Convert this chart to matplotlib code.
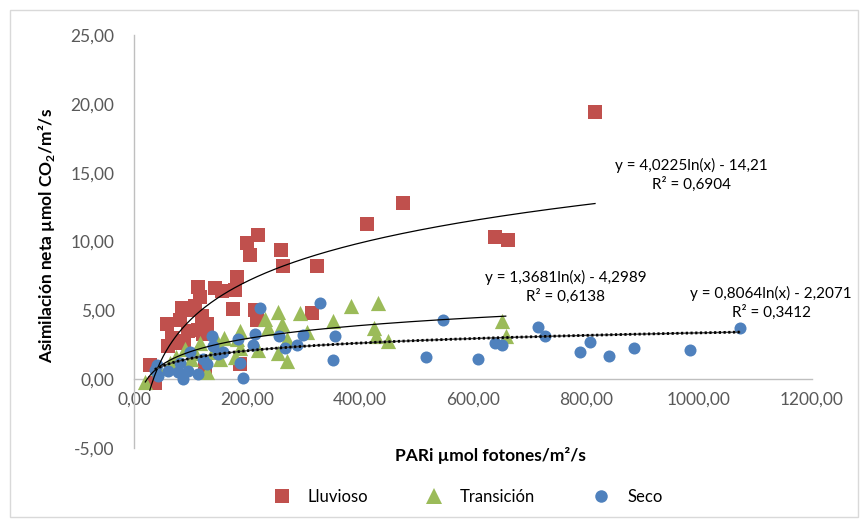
import numpy as np
import matplotlib
matplotlib.use("Agg")
import matplotlib.pyplot as plt
from matplotlib.patches import Rectangle
from matplotlib.lines import Line2D

plt.rcParams['font.family'] = ['Lato', 'DejaVu Sans']
plt.rcParams['mathtext.fontset'] = 'custom'
plt.rcParams['mathtext.rm'] = 'Lato'
plt.rcParams['mathtext.bf'] = 'Lato:bold'

# PARi (x) and net assimilation (y) for each season
lluv_x = [816, 476, 412, 639, 662, 324, 315, 219, 200, 205, 260, 264, 182, 179,
          176, 214, 217, 143, 156, 113, 117, 108, 85, 81, 58, 67, 78, 120, 113,
          122, 61, 28, 37, 188, 126, 100, 95, 130, 88]
lluv_y = [19.4, 12.8, 11.3, 10.3, 10.1, 8.2, 4.8, 10.5, 9.9, 9.0, 9.4, 8.2, 7.4,
          6.5, 5.1, 5.0, 4.3, 6.6, 6.4, 6.7, 6.0, 5.3, 5.2, 4.3, 4.0, 3.0, 2.6,
          4.6, 3.6, 3.3, 2.4, 1.0, -0.3, 1.1, 0.9, 5.0, 3.5, 4.0, 2.8]

trans_x = [20, 43, 64, 75, 100, 108, 117, 129, 149, 152, 160, 179, 182, 188, 188,
           219, 232, 237, 255, 255, 262, 271, 271, 294, 306, 352, 384, 425, 428,
           432, 449, 651, 658, 90, 140]
trans_y = [-0.2, 0.8, 1.2, 1.6, 1.5, 1.9, 2.6, 0.5, 2.6, 1.5, 3.0, 1.6, 2.9, 3.5,
           2.3, 2.1, 4.4, 3.7, 4.9, 1.9, 4.0, 2.9, 1.3, 4.8, 3.4, 4.2, 5.3, 3.7,
           3.1, 5.5, 2.8, 4.2, 3.1, 2.2, 2.0]

seco_x = [37, 43, 40, 60, 81, 78, 87, 96, 99, 122, 129, 113, 138, 140, 149, 158,
          184, 188, 193, 211, 214, 223, 257, 267, 288, 299, 329, 352, 356, 547,
          517, 609, 639, 651, 715, 727, 789, 807, 841, 885, 984, 1072]
seco_y = [0.7, 0.2, 1.0, 0.6, 1.2, 0.5, 0.0, 0.6, 2.0, 1.5, 1.1, 0.4, 3.1, 2.4,
          1.8, 2.0, 2.9, 1.2, 0.1, 2.5, 3.3, 5.2, 3.1, 2.3, 2.5, 3.2, 5.5, 1.4,
          3.1, 4.3, 1.6, 1.5, 2.6, 2.5, 3.8, 3.1, 2.0, 2.7, 1.7, 2.3, 2.1, 3.7]

# logarithmic fits y = a ln(x) + b
fits = {
    'lluv': (4.0225, -14.21),
    'trans': (1.3681, -4.2989),
    'seco': (0.8064, -2.2071),
}

c_lluv = '#C0504D'
c_trans = '#9BBB59'
c_seco = '#4F81BD'

fig = plt.figure(figsize=(8.68, 5.27), dpi=100)
ax = fig.add_axes([134 / 868, 79 / 527, 678 / 868, 413 / 527])

ax.scatter(lluv_x, lluv_y, marker='s', s=105, color=c_lluv, linewidths=0, zorder=3)
ax.scatter(trans_x, trans_y, marker='^', s=120, color=c_trans, linewidths=0, zorder=3)
ax.scatter(seco_x, seco_y, marker='o', s=75, color=c_seco, linewidths=0, zorder=3)

def trend(xs, key):
    a, b = fits[key]
    xx = np.linspace(min(xs), max(xs), 300)
    return xx, a * np.log(xx) + b

xx, yy = trend(lluv_x, 'lluv')
ax.plot(xx, yy, color='black', lw=0.9, zorder=4)
xx, yy = trend(trans_x, 'trans')
ax.plot(xx, yy, color='black', lw=0.9, zorder=4)
xx, yy = trend(seco_x, 'seco')
ax.plot(xx, yy, color='#444444', lw=1.0, zorder=4)
ax.plot(xx, yy, color='black', lw=2.0, ls=(0, (0.8, 0.9)), zorder=4)

ax.set_xlim(0, 1200)
ax.set_ylim(-5, 25)
ax.set_xticks(np.arange(0, 1201, 200))
ax.set_yticks(np.arange(-5, 26, 5))
ax.set_xticklabels([f'{v:.2f}'.replace('.', ',') for v in np.arange(0, 1201, 200)])
ax.set_yticklabels([f'{v:.2f}'.replace('.', ',') for v in np.arange(-5, 26, 5)])

for s in ['top', 'right']:
    ax.spines[s].set_visible(False)
ax.spines['bottom'].set_position(('data', 0))
ax.spines['left'].set_position(('data', 0))
for s in ['bottom', 'left']:
    ax.spines[s].set_color('#BFBFBF')
    ax.spines[s].set_linewidth(1.0)
ax.tick_params(axis='both', length=0, labelsize=12.5, colors='#595959')
ax.tick_params(axis='x', pad=9)
ax.tick_params(axis='y', pad=14)

fig.text(47 / 868, 1 - 235 / 527, r'Asimilación neta µmol CO$_\mathbf{2}$/m²/s',
         rotation=90, ha='center', va='center', fontsize=12.5, fontweight='bold')
fig.text(490 / 868, 1 - 455 / 527, 'PARi µmol fotones/m²/s',
         ha='center', va='center', fontsize=12.5, fontweight='bold')

# fitted equations
fig.text(691 / 868, 1 - 175 / 527, 'y = 4,0225ln(x) - 14,21\nR² = 0,6904',
         ha='center', va='center', fontsize=11, linespacing=1.25)
fig.text(566 / 868, 1 - 287 / 527, 'y = 1,3681ln(x) - 4,2989\nR² = 0,6138',
         ha='center', va='center', fontsize=11, linespacing=1.25)
fig.text(771 / 868, 1 - 303 / 527, 'y = 0,8064ln(x) - 2,2071\nR² = 0,3412',
         ha='center', va='center', fontsize=11, linespacing=1.25)

handles = [
    Line2D([], [], ls='none', marker='s', ms=10, color=c_lluv, mew=0),
    Line2D([], [], ls='none', marker='^', ms=11, color=c_trans, mew=0),
    Line2D([], [], ls='none', marker='o', ms=9, color=c_seco, mew=0),
]
fig.legend(handles, ['Lluvioso', 'Transición', 'Seco'], loc='center',
           bbox_to_anchor=(466 / 868, 1 - 497 / 527), ncol=3, frameon=False,
           fontsize=12, handletextpad=0.8, columnspacing=3.2, handlelength=1.5)

fig.patches.append(Rectangle((10 / 868, 10 / 527), 848 / 868, 507 / 527,
                             transform=fig.transFigure, fill=False,
                             edgecolor='#D9D9D9', lw=1.0))

fig.savefig('out.png', dpi=100)
